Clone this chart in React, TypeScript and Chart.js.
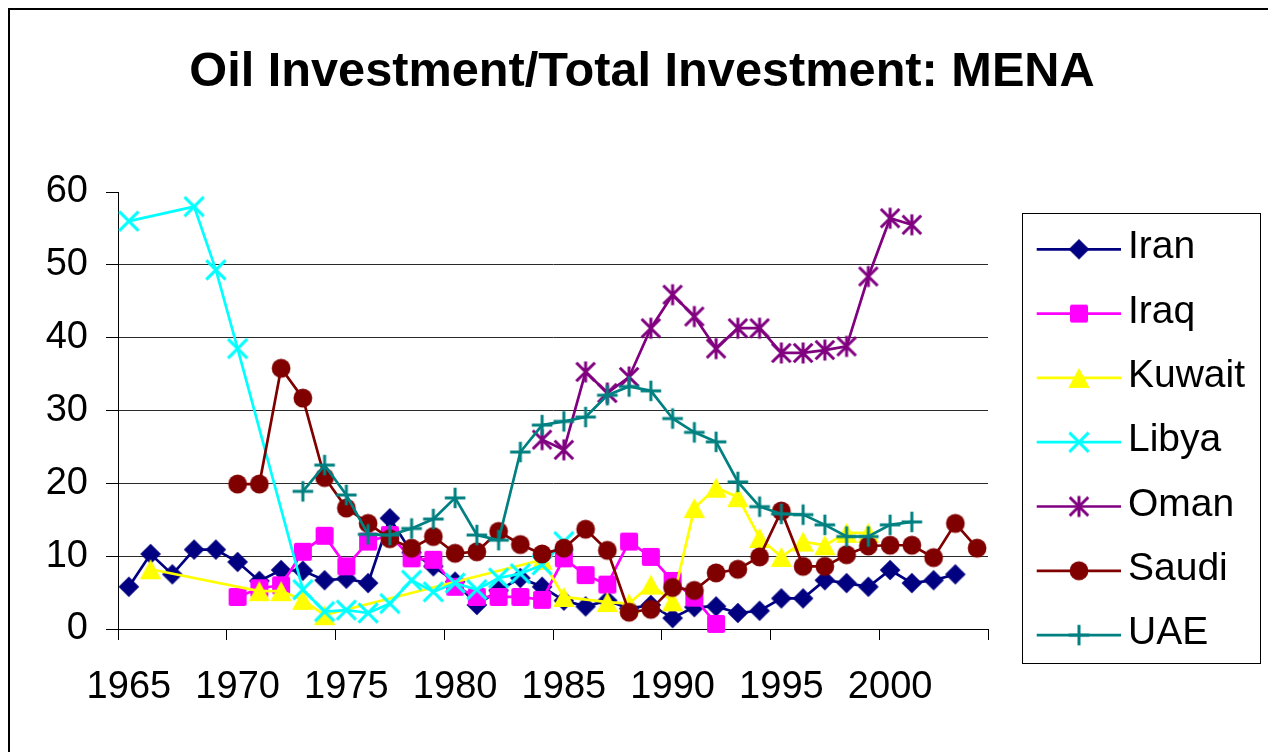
import React, { useEffect, useRef } from 'react';
import { Chart, registerables } from 'chart.js';

Chart.register(...registerables);

const FONT = "'Liberation Sans', Arial, Helvetica, sans-serif";
const TITLE = 'Oil Investment/Total Investment: MENA';

const years = [
  '1965', '1966', '1967', '1968', '1969', '1970', '1971', '1972', '1973', '1974',
  '1975', '1976', '1977', '1978', '1979', '1980', '1981', '1982', '1983', '1984',
  '1985', '1986', '1987', '1988', '1989', '1990', '1991', '1992', '1993', '1994',
  '1995', '1996', '1997', '1998', '1999', '2000', '2001', '2002', '2003', '2004',
];

const tickYears = ['1965', '1970', '1975', '1980', '1985', '1990', '1995', '2000'];
const yTicks = [0, 10, 20, 30, 40, 50, 60];

const iran = [
  5.8, 10.3, 7.5, 10.9, 10.9, 9.2, 6.6, 8.1, 8.0, 6.7,
  6.9, 6.3, 15.2, 10.5, 8.6, 6.5, 3.3, 5.3, 7.0, 5.8,
  3.9, 3.1, 3.9, 2.8, 3.3, 1.5, 3.0, 3.1, 2.2, 2.5,
  4.2, 4.2, 6.7, 6.3, 5.8, 8.1, 6.3, 6.7, 7.5, null,
];

const iraq = [
  null, null, null, null, null, 4.4, 5.6, 6.0, 10.6, 12.8,
  8.6, 12.0, 12.9, 9.7, 9.5, 5.8, 4.4, 4.4, 4.4, 4.0,
  9.7, 7.4, 6.1, 12.0, 9.9, 6.6, 4.3, 0.7, null, null,
  null, null, null, null, null, null, null, null, null, null,
];

const kuwait = [
  null, 8.2, null, null, null, null, 5.2, 5.2, 4.0, 1.9,
  null, null, null, null, null, null, null, null, null, 9.5,
  4.4, null, 3.7, 3.5, 6.1, 3.8, 16.6, 19.4, 18.1, 12.5,
  9.9, 12.0, 11.5, 13.2, 13.2, null, null, null, null, null,
];

const libya = [
  56.0, null, null, 58.0, 49.3, 38.5, null, null, 5.4, 2.4,
  2.6, 2.2, 3.5, 6.7, 5.1, 6.3, 5.4, 7.0, 7.6, 8.8,
  12.0, null, null, null, null, null, null, null, null, null,
  null, null, null, null, null, null, null, null, null, null,
];

const oman = [
  null, null, null, null, null, null, null, null, null, null,
  null, null, null, null, null, null, null, null, null, 26.0,
  24.6, 35.3, 32.4, 34.6, 41.3, 45.9, 42.9, 38.5, 41.3, 41.3,
  37.9, 37.9, 38.3, 38.8, 48.4, 56.4, 55.5, null, null, null,
];

const saudi = [
  null, null, null, null, null, 19.9, 19.9, 35.8, 31.7, 20.8,
  16.6, 14.5, 12.4, 11.1, 12.7, 10.4, 10.6, 13.4, 11.6, 10.3,
  11.1, 13.7, 10.8, 2.3, 2.7, 5.7, 5.3, 7.7, 8.2, 9.9,
  16.2, 8.6, 8.6, 10.2, 11.4, 11.5, 11.5, 9.8, 14.5, 11.1,
];

const uae = [
  null, null, null, null, null, null, null, null, 18.9, 22.5,
  18.4, 13.0, 12.9, 13.8, 15.1, 18.0, 12.9, 12.2, 24.3, 28.0,
  28.5, 29.1, 32.1, 33.3, 32.7, 28.9, 27.0, 25.7, 20.2, 16.8,
  15.8, 15.7, 14.3, 12.7, 12.7, 14.3, 14.7, null, null, null,
];

const seriesNames = ['Iran', 'Iraq', 'Kuwait', 'Libya', 'Oman', 'Saudi', 'UAE'];
const seriesData = [iran, iraq, kuwait, libya, oman, saudi, uae];
const seriesColors = ['#000080', '#FF00FF', '#FFFF00', '#00FFFF', '#800080', '#800000', '#008080'];
const seriesMarkers = ['diamond', 'square', 'triangle', 'x', 'star', 'circle', 'plus'];

function makeMarker(kind: string, color: string): HTMLCanvasElement {
  const c = document.createElement('canvas');
  const s = 26;
  c.width = s;
  c.height = s;
  const g = c.getContext('2d') as CanvasRenderingContext2D;
  const m = s / 2;
  g.fillStyle = color;
  g.strokeStyle = color;
  g.lineWidth = 3;
  g.lineCap = 'butt';
  g.beginPath();
  switch (kind) {
    case 'diamond':
      g.moveTo(m, m - 10.3);
      g.lineTo(m + 10.3, m);
      g.lineTo(m, m + 10.3);
      g.lineTo(m - 10.3, m);
      g.closePath();
      g.fill();
      break;
    case 'square': {
      const h = 9, r = 2;
      g.moveTo(m - h + r, m - h);
      g.arcTo(m + h, m - h, m + h, m + h, r);
      g.arcTo(m + h, m + h, m - h, m + h, r);
      g.arcTo(m - h, m + h, m - h, m - h, r);
      g.arcTo(m - h, m - h, m + h, m - h, r);
      g.closePath();
      g.fill();
      break;
    }
    case 'triangle':
      g.moveTo(m, m - 10);
      g.lineTo(m + 10.7, m + 10);
      g.lineTo(m - 10.7, m + 10);
      g.closePath();
      g.fill();
      break;
    case 'x':
      g.moveTo(m - 9.6, m - 9.6);
      g.lineTo(m + 9.6, m + 9.6);
      g.moveTo(m + 9.6, m - 9.6);
      g.lineTo(m - 9.6, m + 9.6);
      g.stroke();
      break;
    case 'star':
      g.moveTo(m - 9.3, m - 9.3);
      g.lineTo(m + 9.3, m + 9.3);
      g.moveTo(m + 9.3, m - 9.3);
      g.lineTo(m - 9.3, m + 9.3);
      g.moveTo(m, m - 10.5);
      g.lineTo(m, m + 10.5);
      g.stroke();
      break;
    case 'circle':
      g.arc(m, m, 9.4, 0, Math.PI * 2);
      g.fill();
      break;
    case 'plus':
      g.moveTo(m - 10.3, m);
      g.lineTo(m + 10.3, m);
      g.moveTo(m, m - 10.3);
      g.lineTo(m, m + 10.3);
      g.stroke();
      break;
  }
  return c;
}

const W = 1264;
const H = 744;

export default function App() {
  const ref = useRef<HTMLCanvasElement | null>(null);

  useEffect(() => {
    document.body.style.overflow = 'hidden';
    document.documentElement.style.overflow = 'hidden';
    const canvas = ref.current;
    if (!canvas) return;

    const markers = seriesMarkers.map((k, i) => makeMarker(k, seriesColors[i]));

    const decor = {
      id: 'decor',
      afterDraw(chart: any) {
        const ctx = chart.ctx as CanvasRenderingContext2D;
        ctx.save();
        // outer frame
        ctx.strokeStyle = '#000';
        ctx.lineWidth = 2;
        ctx.beginPath();
        ctx.moveTo(1, H + 20);
        ctx.lineTo(1, 1);
        ctx.lineTo(W - 2, 1);
        ctx.lineTo(W - 2, H + 20);
        ctx.stroke();
        // title
        ctx.fillStyle = '#000';
        ctx.font = `bold 48.7px ${FONT}`;
        ctx.textAlign = 'center';
        ctx.textBaseline = 'alphabetic';
        ctx.fillText(TITLE, 634, 78);
        // legend
        ctx.strokeStyle = '#000';
        ctx.lineWidth = 1;
        ctx.strokeRect(1014.5, 205.5, 238, 450);
        seriesNames.forEach((name, i) => {
          const y = 241.3 + i * 64.3;
          ctx.strokeStyle = seriesColors[i];
          ctx.lineWidth = 2.7;
          ctx.beginPath();
          ctx.moveTo(1028.7, y);
          ctx.lineTo(1113, y);
          ctx.stroke();
          const mk = markers[i];
          ctx.drawImage(mk, 1071 - mk.width / 2, y - mk.height / 2);
          ctx.fillStyle = '#000';
          ctx.font = `39px ${FONT}`;
          ctx.textAlign = 'left';
          ctx.textBaseline = 'alphabetic';
          ctx.fillText(name, 1120, y + 9);
        });
        ctx.restore();
      },
    };

    const chart = new Chart(canvas, {
      type: 'line',
      data: {
        labels: years,
        datasets: seriesNames.map((name, i) => ({
          label: name,
          data: seriesData[i],
          borderColor: seriesColors[i],
          backgroundColor: seriesColors[i],
          borderWidth: 2.7,
          pointStyle: markers[i] as any,
          pointRadius: 10,
          pointHoverRadius: 10,
          spanGaps: true,
          tension: 0,
          clip: false as any,
          order: seriesNames.length - i,
        })),
      },
      options: {
        responsive: false,
        animation: false,
        devicePixelRatio: 1,
        events: [],
        layout: { padding: { top: 184, right: W - 980, bottom: 0, left: 0 } },
        plugins: {
          legend: { display: false },
          title: { display: false },
          tooltip: { enabled: false },
        },
        scales: {
          x: {
            type: 'category',
            offset: true,
            grid: {
              offset: true,
              drawOnChartArea: false,
              drawTicks: true,
              tickLength: 11,
              lineWidth: 1,
              color: '#000',
              tickColor: (c: any) =>
                c.index === undefined || c.index % 5 === 0 ? '#000' : 'rgba(0,0,0,0)',
            },
            border: { display: true, color: '#000', width: 1 },
            ticks: {
              autoSkip: false,
              maxRotation: 0,
              minRotation: 0,
              padding: 25,
              color: '#000',
              font: { family: FONT, size: 38 },
              callback: (_v: any, index: number) =>
                tickYears.includes(years[index]) ? years[index] : '',
            },
            afterFit: (scale: any) => {
              scale.height = H - 621;
            },
          },
          y: {
            type: 'linear',
            min: yTicks[0],
            max: yTicks[yTicks.length - 1],
            grid: {
              drawTicks: true,
              tickLength: 12,
              lineWidth: 1,
              tickColor: '#000',
              color: (c: any) =>
                c.tick && (c.tick.value === 0 || c.tick.value === 60) ? 'rgba(0,0,0,0)' : '#2a2a2a',
            },
            border: { display: true, color: '#000', width: 1 },
            ticks: {
              stepSize: 10,
              padding: 18,
              color: '#000',
              font: { family: FONT, size: 38 },
            },
            afterFit: (scale: any) => {
              scale.width = 110;
            },
          },
        },
      } as any,
      plugins: [decor],
    });

    return () => {
      chart.destroy();
    };
  }, []);

  return (
    <div style={{ width: W, height: H, background: '#fff' }}>
      <canvas ref={ref} width={W} height={H} style={{ display: 'block', width: W, height: H }} />
    </div>
  );
}
